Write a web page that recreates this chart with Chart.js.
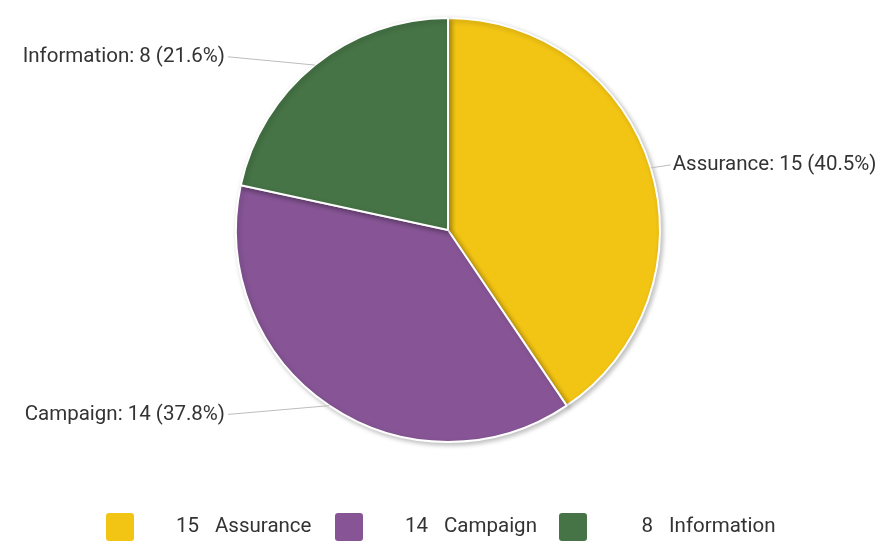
<!DOCTYPE html>
<html>
<head>
<meta charset="utf-8">
<script src="https://cdn.jsdelivr.net/npm/chart.js@4.4.1/dist/chart.umd.min.js"></script>
<style>
    html, body { margin: 0; padding: 0; background: #fff; }
    #wrap { width: 884px; height: 548px; position: relative; }
</style>
</head>
<body>
<div id="wrap"><canvas id="pieChart" width="884" height="548"></canvas></div>
<script>
// Chart data
const categories = ['Assurance', 'Campaign', 'Information'];
const counts = [15, 14, 8];
const sliceColors = ['#F2C414', '#875596', '#467446'];

const FONT = 'Roboto, "Noto Sans", sans-serif';

// outside labels with leader lines
const sliceLabels = {
    id: 'sliceLabels',
    afterDatasetsDraw(chart) {
        const ctx = chart.ctx;
        const meta = chart.getDatasetMeta(0);
        const total = counts.reduce((a, b) => a + b, 0);
        ctx.save();
        ctx.font = '20.5px ' + FONT;
        ctx.textBaseline = 'middle';
        meta.data.forEach((arc, i) => {
            const p = arc.getProps(['x', 'y', 'startAngle', 'endAngle', 'outerRadius']);
            const mid = (p.startAngle + p.endAngle) / 2;
            const ex = p.x + Math.cos(mid) * p.outerRadius;
            const ey = p.y + Math.sin(mid) * p.outerRadius;
            const pct = (counts[i] / total * 100).toFixed(1);
            const text = categories[i] + ': ' + counts[i] + ' (' + pct + '%)';
            let lx, ly, tx;
            if (Math.cos(mid) >= 0) {
                lx = ex + 20;
                ly = ey - 3;
                tx = lx + 2;
                ctx.textAlign = 'left';
            } else {
                lx = p.x - p.outerRadius - 8;
                ly = p.y + (ey - p.y) * 1.05;
                tx = lx - 3;
                ctx.textAlign = 'right';
            }
            ctx.strokeStyle = '#bdbdbd';
            ctx.lineWidth = 1;
            ctx.beginPath();
            ctx.moveTo(ex, ey);
            ctx.lineTo(lx, ly);
            ctx.stroke();
            ctx.fillStyle = '#333';
            ctx.fillText(text, tx, ly);
        });
        ctx.restore();
    }
};

// bottom legend
const bottomLegend = {
    id: 'bottomLegend',
    afterDraw(chart) {
        const ctx = chart.ctx;
        const boxX = [106, 335, 559];
        const numRight = [199, 428, 653];
        const y = 527;
        ctx.save();
        ctx.font = '20.5px ' + FONT;
        ctx.textBaseline = 'middle';
        categories.forEach((name, i) => {
            ctx.fillStyle = sliceColors[i];
            ctx.beginPath();
            ctx.roundRect(boxX[i], y - 14, 28, 28, 3);
            ctx.fill();
            ctx.fillStyle = '#333';
            ctx.textAlign = 'right';
            ctx.fillText(String(counts[i]), numRight[i], y);
            ctx.textAlign = 'left';
            ctx.fillText(name, numRight[i] + 16, y);
        });
        ctx.restore();
    }
};

// soft shadow under the pie
const pieShadow = {
    id: 'pieShadow',
    beforeDatasetsDraw(chart) {
        chart.ctx.save();
        chart.ctx.shadowColor = 'rgba(0,0,0,0.25)';
        chart.ctx.shadowBlur = 5;
        chart.ctx.shadowOffsetX = 2;
        chart.ctx.shadowOffsetY = 2;
    },
    afterDatasetsDraw(chart) {
        chart.ctx.restore();
    }
};

function createPieChart() {
    const ctx = document.getElementById('pieChart');
    new Chart(ctx, {
        type: 'pie',
        data: {
            labels: categories,
            datasets: [{
                data: counts,
                backgroundColor: sliceColors,
                borderColor: '#ffffff',
                borderWidth: 2
            }]
        },
        options: {
            responsive: false,
            animation: false,
            layout: {
                padding: { top: 17, bottom: 105, left: 12, right: 0 }
            },
            plugins: {
                legend: { display: false },
                tooltip: { enabled: false }
            }
        },
        plugins: [pieShadow, sliceLabels, bottomLegend]
    });
}

createPieChart();
</script>
</body>
</html>
